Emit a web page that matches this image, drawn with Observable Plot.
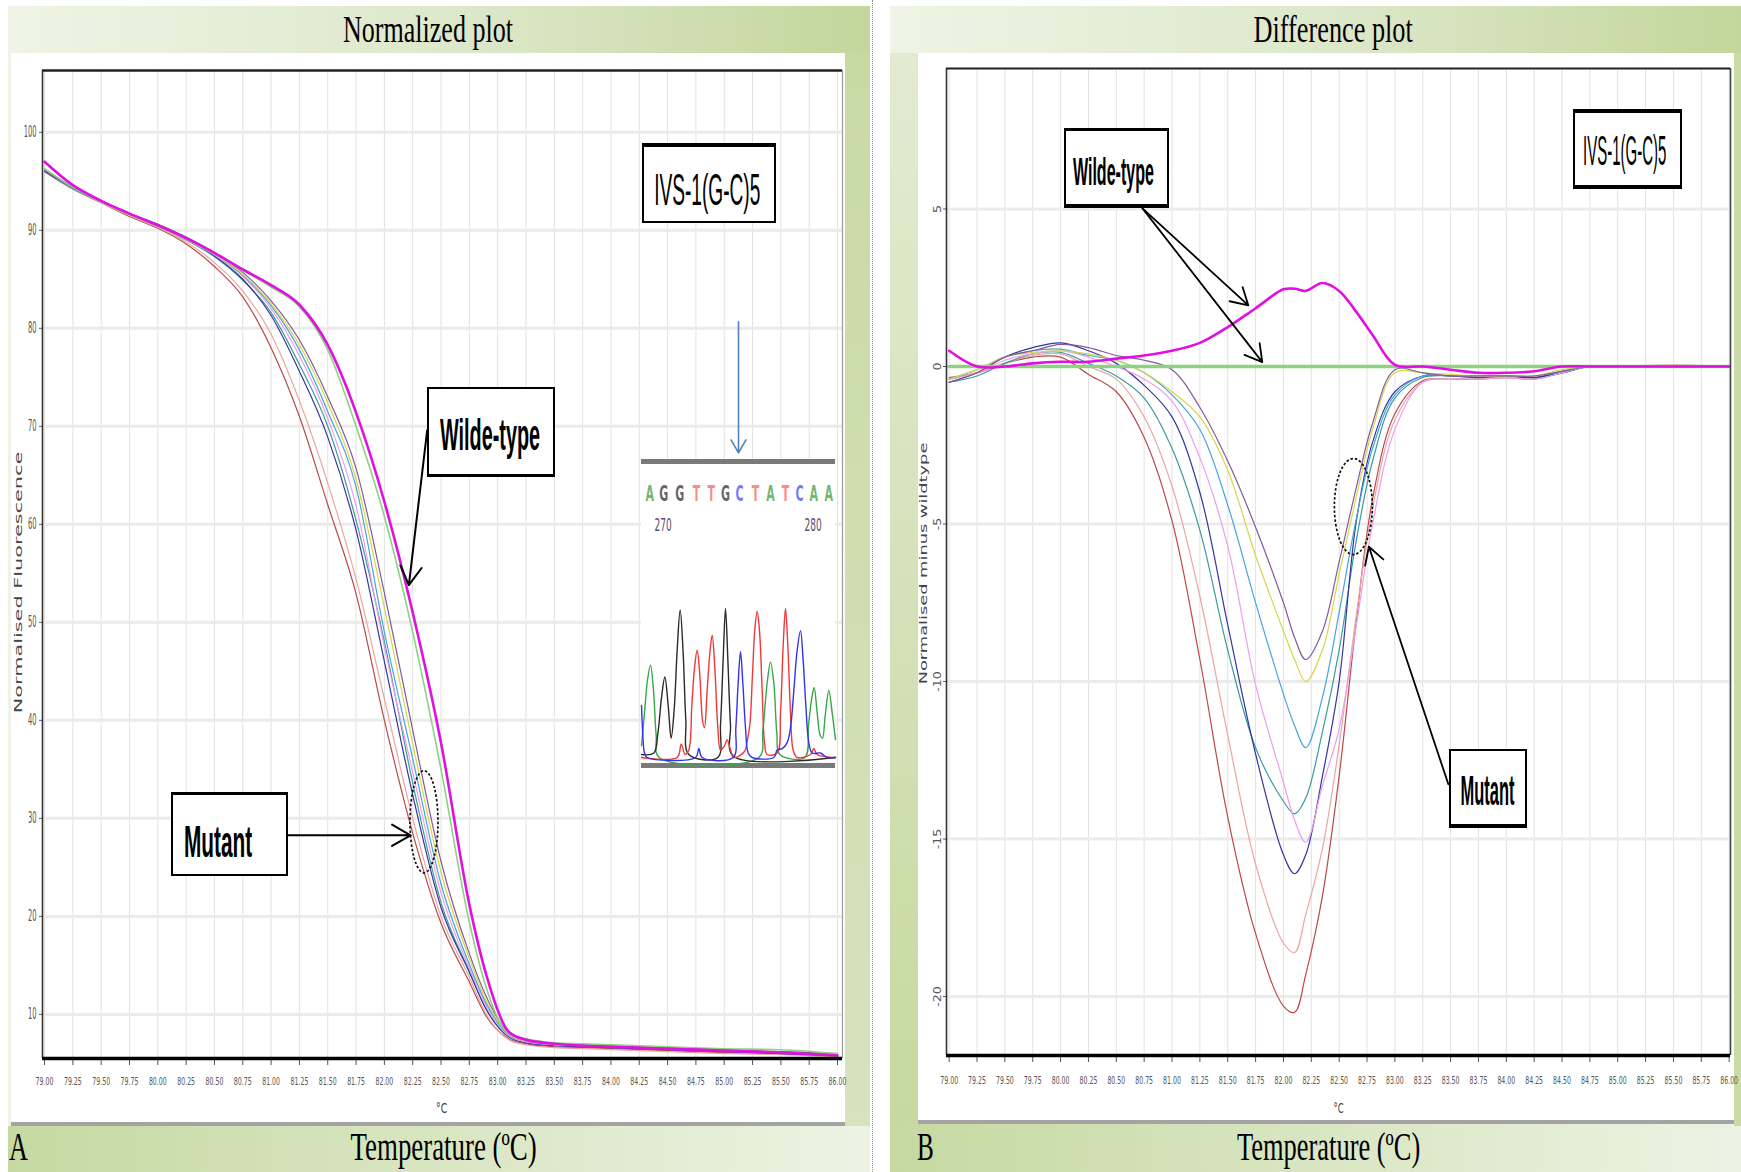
<!DOCTYPE html>
<html><head><meta charset="utf-8">
<script src="https://cdn.jsdelivr.net/npm/d3@7"></script>
<script src="https://cdn.jsdelivr.net/npm/@observablehq/plot@0.6"></script>
<style>
html,body{margin:0;padding:0;background:#fff;}
#root{position:relative;width:1741px;height:1172px;overflow:hidden;background:#fff;}
.box{position:absolute;box-sizing:border-box;border:2px solid #000;background:#fff;}
</style></head>
<body><div id="root"></div>
<script>
// ---------------- DATA ----------------
const names = ["Mutant 1","Mutant 2","Mutant 3","Mutant 4","Mutant 5","Mutant 6","Mutant 7","Mutant 8","Wild-type ref","Wild-type"];
const colors = ["#b94a48","#e9a6a4","#3b9b9b","#35359e","#ec9eec","#46a5d9","#d6d64a","#86589a","#8dd27f","#e20fe2"];

// Normalized plot
const normT = [79.0,79.25,79.5,79.75,80.0,80.25,80.5,80.75,81.0,81.25,81.5,81.75,82.0,82.25,82.5,82.75,82.9,83.1,83.25,83.5,83.75,84.0,84.5,85.0,85.5,86.0];
const nRed     = [96.0,94.2,92.8,91.4,90.2,88.6,86.3,83.2,78.0,71.0,62.0,52.9,40.0,28.5,19.3,13.3,9.8,7.5,7.0,6.7,6.6,6.5,6.3,6.1,6.0,5.8];
const nSalmon  = [96.0,94.2,92.8,91.5,90.3,88.8,86.7,83.8,79.4,72.6,64.2,54.4,42.2,30.0,20.0,13.8,10.0,7.4,6.9,6.6,6.5,6.4,6.2,6.0,5.9,5.7];
const nTeal    = [96.1,94.3,92.9,91.6,90.4,89.0,87.3,84.9,81.6,76.3,70.0,60.4,48.0,33.6,21.4,14.4,10.5,7.7,7.2,6.9,6.8,6.7,6.5,6.3,6.1,5.9];
const nBlue    = [96.0,94.3,92.9,91.7,90.6,89.2,87.4,85.0,81.3,75.6,68.9,59.4,46.0,32.4,20.9,14.3,10.5,7.7,7.1,6.8,6.7,6.6,6.4,6.2,6.0,5.8];
const nPink    = [96.2,94.4,92.9,91.6,90.4,89.1,87.5,85.3,82.0,77.2,70.8,61.9,47.5,34.7,22.4,14.7,10.8,7.8,7.2,6.9,6.8,6.7,6.5,6.3,6.2,6.0];
const nCyan    = [96.1,94.3,92.9,91.6,90.5,89.2,87.6,85.4,82.3,77.8,71.5,63.8,49.0,36.1,23.3,15.1,11.1,7.9,7.3,7.0,6.8,6.7,6.5,6.3,6.1,5.9];
const nYellow  = [96.2,94.4,92.9,91.6,90.4,89.1,87.6,85.5,82.5,78.3,72.4,64.6,51.5,37.6,24.5,15.7,11.4,8.0,7.3,7.0,6.9,6.8,6.6,6.4,6.2,6.0];
const nPurple  = [96.1,94.4,93.0,91.7,90.6,89.3,87.7,85.7,82.8,78.8,73.0,65.7,53.0,39.0,25.6,16.2,11.8,8.1,7.4,7.0,6.9,6.8,6.6,6.4,6.2,6.0];
const nGreen   = [96.3,94.4,92.9,91.6,90.4,89.1,87.6,85.9,84.2,82.2,77.8,70.0,60.8,49.0,35.0,19.4,12.7,8.0,7.5,7.1,7.0,6.9,6.7,6.5,6.4,6.0];
const nMagenta = [97.0,94.6,93.0,91.7,90.5,89.2,87.7,86.0,84.4,82.4,78.3,71.4,62.3,51.0,37.7,21.2,14.0,8.2,7.4,7.0,6.8,6.7,6.5,6.3,6.1,5.8];

// Difference plot
const diffT = [79.0,79.25,79.5,79.75,80.0,80.25,80.5,80.75,81.0,81.25,81.5,81.75,82.0,82.1,82.2,82.35,82.5,82.65,82.8,83.0,83.25,83.5,83.75,84.0,84.25,84.5,84.75,85.0,85.5,86.0];
const dRed     = [-0.35,-0.2,0.1,0.3,0.3,-0.25,-0.8,-2.25,-4.9,-9.3,-14.3,-18.0,-20.3,-20.5,-19.3,-16.8,-13.0,-8.2,-4.2,-1.5,-0.45,-0.4,-0.4,-0.35,-0.4,-0.2,0,0,0,0];
const dSalmon  = [-0.4,-0.2,0.1,0.35,0.4,0.0,-0.4,-1.6,-3.8,-7.3,-11.7,-15.8,-18.3,-18.6,-17.4,-15.3,-12.0,-8.0,-4.5,-1.7,-0.5,-0.4,-0.35,-0.35,-0.35,-0.2,0,0,0.05,0];
const dTeal    = [-0.5,-0.3,0.1,0.4,0.45,0.1,-0.3,-1.0,-2.6,-5.2,-9.0,-12.1,-13.8,-14.2,-13.7,-11.6,-9.0,-5.6,-3.0,-1.0,-0.35,-0.3,-0.35,-0.3,-0.35,-0.15,0,0,0,0];
const dBlue    = [-0.5,-0.2,0.3,0.6,0.75,0.5,0.1,-0.6,-1.6,-4.0,-8.2,-12.3,-15.5,-16.1,-15.5,-13.0,-10.0,-5.0,-2.4,-0.8,-0.3,-0.3,-0.35,-0.3,-0.35,-0.2,0,0,0,0];
const dPink    = [-0.4,-0.2,0.2,0.4,0.5,0.3,0.0,-0.4,-1.1,-2.9,-5.7,-10.1,-13.2,-14.4,-15.1,-13.3,-11.5,-8.3,-5.0,-2.0,-0.5,-0.4,-0.4,-0.35,-0.4,-0.2,0,0,0,0];
const dCyan    = [-0.4,-0.1,0.3,0.5,0.55,0.35,0.2,-0.2,-0.9,-2.0,-4.4,-7.5,-10.4,-11.4,-12.1,-10.5,-7.8,-4.9,-2.6,-0.9,-0.3,-0.3,-0.3,-0.3,-0.3,-0.15,0,0,0,0];
const dYellow  = [-0.4,-0.1,0.3,0.45,0.5,0.4,0.2,-0.2,-0.8,-1.6,-3.3,-6.0,-8.4,-9.3,-10.0,-9.0,-6.6,-4.2,-2.0,-0.2,-0.2,-0.25,-0.3,-0.3,-0.3,-0.1,0,0,0,0];
const dPurple  = [-0.5,-0.2,0.3,0.5,0.7,0.6,0.35,0.2,-0.1,-1.3,-3.0,-5.1,-7.5,-8.6,-9.3,-8.4,-6.2,-3.9,-1.8,-0.1,-0.2,-0.3,-0.3,-0.3,-0.3,-0.15,0,0,0,0];
const dGreen   = [0,0,0,0,0,0,0,0,0,0,0,0,0,0,0,0,0,0,0,0,0,0,0,0,0,0,0,0,0,0];
const dMagenta = [0.5,0.0,0.0,0.1,0.15,0.15,0.25,0.35,0.5,0.75,1.25,1.85,2.45,2.47,2.4,2.65,2.4,1.75,1.0,0.05,0.0,-0.1,-0.2,-0.2,-0.15,0.0,0.0,0.0,0.0,0.0];

// axes / ticks
const xTicks = [79,79.25,79.5,79.75,80,80.25,80.5,80.75,81,81.25,81.5,81.75,82,82.25,82.5,82.75,83,83.25,83.5,83.75,84,84.25,84.5,84.75,85,85.25,85.5,85.75,86];
const nYTicks = [10,20,30,40,50,60,70,80,90,100];
const dYTicks = [-20,-15,-10,-5,0,5];
const nXDomain = [78.982, 86.044], nYDomain = [5.5, 106.3];
const dXDomain = [78.976, 86.012], dYDomain = [-21.87, 9.46];

// annotations (data coordinates)
const nArrows = [
  {x1:82.378, y1:69.6, x2:82.216, y2:53.8},   // Wilde-type
  {x1:81.154, y1:28.27, x2:82.231, y2:28.27}  // Mutant
];
const nSeqArrow = [{x1:85.126, y1:80.67, x2:85.126, y2:67.29}];
const dArrows = [
  {x1:80.735, y1:5.02, x2:81.685, y2:1.94},
  {x1:80.735, y1:5.02, x2:81.81, y2:0.14},
  {x1:83.48, y1:-13.26, x2:82.767, y2:-5.72}
];
const nEllipse = {x:82.354, y:29.6};
const dEllipse = {x:82.632, y:-4.46};

// chromatogram inset (position units along trace, height 0..100)
const seqLetters = ["A","G","G","T","T","G","C","T","A","T","C","A","A"];
const seqPos = [88,130,178,228,272,315,357,405,450,495,537,580,625];
const seqNumbers = ["270","280"];
const seqNumberPos = [128,578];
const chromaA = [[63,8],[72,30],[81,52],[90,62],[99,45],[107,15],[116,0],[415,0],[427,18],[440,50],[450,64],[460,50],[469,16],[478,2],[553,0],[564,22],[574,40],[581,47],[590,30],[599,15],[606,13],[614,28],[625,45],[635,30],[645,12]];
const chromaG = [[63,2],[100,3],[112,16],[123,40],[133,54],[143,35],[152,13],[161,32],[170,72],[179,99],[188,70],[196,25],[205,2],[292,0],[300,22],[308,66],[315,100],[322,66],[330,22],[338,1],[645,0]];
const chromaT = [[63,0],[170,0],[182,9],[194,2],[205,5],[214,35],[222,60],[230,72],[238,55],[246,25],[252,20],[260,45],[268,70],[275,82],[283,60],[292,20],[300,5],[312,8],[320,12],[330,5],[340,0],[372,4],[380,11],[388,22],[396,56],[403,86],[410,98],[417,85],[425,45],[432,10],[440,2],[470,3],[480,30],[488,75],[495,100],[502,75],[510,30],[518,5],[530,0],[570,2],[580,6],[590,2],[645,0]];
const chromaC = [[63,35],[67,15],[72,3],[80,0],[225,0],[235,6],[245,0],[338,0],[346,20],[353,50],[360,71],[367,50],[375,20],[383,3],[395,0],[460,0],[470,5],[485,6],[500,10],[510,20],[520,45],[530,72],[540,85],[548,65],[556,35],[565,10],[575,3],[600,3],[620,0],[645,0]];
const seqColor = {A:"#3f9f3f", G:"#333333", T:"#ff5f5f", C:"#4b4bff"};

// ---------------- BUILD ----------------
const root = document.getElementById("root");
const NARROW = '"Liberation Sans Narrow","DejaVu Sans Condensed","Liberation Sans",sans-serif';
const SERIF = '"Liberation Serif","DejaVu Serif",serif';

function rect(l,t,w,h,style){const d=document.createElement("div");d.style.cssText=`position:absolute;left:${l}px;top:${t}px;width:${w}px;height:${h}px;${style||""}`;root.appendChild(d);return d;}
function addText(str,o){
  const el=document.createElement("div");
  el.textContent=str;
  el.style.cssText=`position:absolute;left:0;top:0;white-space:nowrap;line-height:1;font-size:${o.size}px;font-family:${o.family};font-weight:${o.weight||"normal"};color:${o.color||"#000"};letter-spacing:${o.ls||0}px`;
  root.appendChild(el);
  const nw=el.offsetWidth, nh=el.offsetHeight;
  el.style.left=(o.cx-nw/2)+"px"; el.style.top=(o.cy-nh/2)+"px";
  el.style.transformOrigin="50% 50%";
  el.style.transform=`rotate(${o.rot||0}deg) scaleX(${o.w/nw})`;
  return el;
}

// panels
const gradTop="linear-gradient(90deg,#eff4e6 0%,#dce7c8 55%,#c3d69b 100%)";
const gradBot="linear-gradient(90deg,#c6d9a1 0%,#dbe7c6 55%,#edf3e3 100%)";
rect(8,6,862,1166,`background:${gradTop}`);
rect(8,1126,862,46,`background:${gradBot}`);
rect(845,53,25,1073,"background:linear-gradient(180deg,#c8daa4,#d6e3bd)");
rect(11,53,834,1069,"background:#fff");
rect(11,1122,834,4,"background:#a3a3a3");
rect(872,0,0,1172,"border-left:1.5px dotted #8d8d70");
rect(890,6,851,1166,`background:${gradTop}`);
rect(890,53,28,1073,"background:linear-gradient(180deg,#e2ebd1,#c6d9a1)");
rect(890,1124,851,48,`background:${gradBot}`);
rect(1734,53,7,1073,"background:#c9dba6");
rect(918,53,816,1067,"background:#fff");
rect(918,1120,816,4,"background:#a3a3a3");

function squeeze(svg, which, sx, fontSize){
  svg.querySelectorAll(`g[aria-label="${which}-axis tick label"] text, g[aria-label="${which}-axis"] g.tick text`).forEach(t=>{
    if(fontSize) t.setAttribute("font-size",fontSize);
    const tr=t.getAttribute("transform")||"";
    t.setAttribute("transform",tr+` scale(${sx},1)`);
  });
}
function place(svg,l,t){svg.style.position="absolute";svg.style.left=l+"px";svg.style.top=t+"px";svg.style.maxWidth="none";root.appendChild(svg);}
function addEllipse(svg,e,rx,ry){
  const sx=svg.scale("x"), sy=svg.scale("y");
  d3.select(svg).append("ellipse").attr("cx",sx.apply(e.x)).attr("cy",sy.apply(e.y)).attr("rx",rx).attr("ry",ry)
    .attr("fill","none").attr("stroke","#111").attr("stroke-width",1.7).attr("stroke-dasharray","2.5,2");
}
function longData(T, arrays){
  return arrays.flatMap((arr,k)=>T.map((t,i)=>({T:t, v:arr[i], s:names[k], c:colors[k]})));
}

// ----- Normalized plot -----
const nMut = longData(normT,[nRed,nSalmon,nTeal,nBlue,nPink,nCyan,nYellow,nPurple]);
const nWTref = normT.map((t,i)=>({T:t,v:nGreen[i]}));
const nWT = normT.map((t,i)=>({T:t,v:nMagenta[i]}));
const left = Plot.plot({
  width:834, height:1069, marginLeft:31, marginRight:3, marginTop:17, marginBottom:64,
  style:{fontFamily:NARROW, fontSize:"11px", color:"#555", background:"transparent", overflow:"visible"},
  x:{domain:nXDomain, ticks:xTicks, tickFormat:d=>d.toFixed(2), tickSize:7, tickPadding:12, label:null},
  y:{domain:nYDomain, ticks:nYTicks, tickFormat:d=>String(d), tickSize:3, tickPadding:3, label:null},
  color:{type:"identity"},
  marks:[
    Plot.ruleX(xTicks,{stroke:"#e2e2e2", strokeWidth:1}),
    Plot.ruleY(nYTicks,{stroke:"#ebebeb", strokeWidth:3}),
    Plot.line(nMut,{x:"T", y:"v", z:"s", stroke:"c", strokeWidth:1.2, curve:"monotone-x"}),
    Plot.line(nWTref,{x:"T", y:"v", stroke:colors[8], strokeWidth:1.6, curve:"monotone-x"}),
    Plot.line(nWT,{x:"T", y:"v", stroke:colors[9], strokeWidth:2.6, curve:"monotone-x"}),
    Plot.ruleX([nXDomain[0]],{stroke:"#333", strokeWidth:1.6}),
    Plot.ruleX([nXDomain[1]],{stroke:"#9a9a9a", strokeWidth:1.2}),
    Plot.ruleY([nYDomain[1]],{stroke:"#222", strokeWidth:2.6}),
    Plot.ruleY([nYDomain[0]],{stroke:"#000", strokeWidth:3.5}),
    Plot.arrow(nArrows,{x1:"x1",y1:"y1",x2:"x2",y2:"y2", stroke:"#000", strokeWidth:2, headLength:16}),
    Plot.arrow(nSeqArrow,{x1:"x1",y1:"y1",x2:"x2",y2:"y2", stroke:"#4f81bd", strokeWidth:1.6, headLength:14})
  ]
});
squeeze(left,"x",0.63,"11");
squeeze(left,"y",0.5,"15");
addEllipse(left,nEllipse,14,51);
place(left,11,53);

// ----- Difference plot -----
const dMut = longData(diffT,[dRed,dSalmon,dTeal,dBlue,dPink,dCyan,dYellow,dPurple]);
const dWTref = diffT.map((t,i)=>({T:t,v:dGreen[i]}));
const dWT = diffT.map((t,i)=>({T:t,v:dMagenta[i]}));
const right = Plot.plot({
  width:816, height:1067, marginLeft:28, marginRight:4, marginTop:15, marginBottom:65,
  style:{fontFamily:NARROW, fontSize:"11px", color:"#555", background:"transparent", overflow:"visible"},
  x:{domain:dXDomain, ticks:xTicks, tickFormat:d=>d.toFixed(2), tickSize:7, tickPadding:14, label:null},
  y:{domain:dYDomain, ticks:dYTicks, tickFormat:d=>String(d), tickSize:3, tickPadding:3, tickRotate:-90, label:null},
  color:{type:"identity"},
  marks:[
    Plot.ruleX(xTicks,{stroke:"#e2e2e2", strokeWidth:1}),
    Plot.ruleY(dYTicks,{stroke:"#ebebeb", strokeWidth:3}),
    Plot.line(dMut,{x:"T", y:"v", z:"s", stroke:"c", strokeWidth:1.2, curve:"catmull-rom"}),
    Plot.line(dWTref,{x:"T", y:"v", stroke:colors[8], strokeWidth:3.5}),
    Plot.line(dWT,{x:"T", y:"v", stroke:colors[9], strokeWidth:2.6, curve:"catmull-rom"}),
    Plot.ruleX([dXDomain[0]],{stroke:"#333", strokeWidth:1.6}),
    Plot.ruleX([dXDomain[1]],{stroke:"#444", strokeWidth:1.6}),
    Plot.ruleY([dYDomain[1]],{stroke:"#222", strokeWidth:2.2}),
    Plot.ruleY([dYDomain[0]],{stroke:"#000", strokeWidth:3.5}),
    Plot.arrow(dArrows,{x1:"x1",y1:"y1",x2:"x2",y2:"y2", stroke:"#000", strokeWidth:1.8, headLength:16})
  ]
});
squeeze(right,"x",0.63,"11");
squeeze(right,"y",1.4,"10");
addEllipse(right,dEllipse,19,48);
place(right,918,53);

// ----- Chromatogram inset -----
const inset = rect(641,459,194,299,"background:#fff;border-top:5px solid #7a7a7a;border-bottom:5px solid #7a7a7a;");
const traceData = (arr)=>arr.map(d=>({p:d[0],h:d[1]}));
const chroma = Plot.plot({
  width:194, height:299, marginTop:0, marginBottom:0, marginLeft:0, marginRight:0,
  style:{background:"transparent", overflow:"visible", fontFamily:'"DejaVu Sans",sans-serif'},
  x:{domain:[63,645], axis:null},
  y:{domain:[0,100], range:[293,144], axis:null},
  color:{type:"identity"},
  marks:[
    Plot.line(traceData(chromaA),{x:"p",y:"h",stroke:"#37a84a",strokeWidth:1.4,curve:"catmull-rom"}),
    Plot.line(traceData(chromaG),{x:"p",y:"h",stroke:"#2b2b2b",strokeWidth:1.4,curve:"catmull-rom"}),
    Plot.line(traceData(chromaT),{x:"p",y:"h",stroke:"#f0383a",strokeWidth:1.4,curve:"catmull-rom"}),
    Plot.line(traceData(chromaC),{x:"p",y:"h",stroke:"#3333ee",strokeWidth:1.4,curve:"catmull-rom"}),
    Plot.text(seqLetters,{x:seqPos, text:d=>d, fill:d=>seqColor[d], frameAnchor:"top", lineAnchor:"middle", dy:29, fontSize:22, fontWeight:"600", fillOpacity:0.75}),
    Plot.text(seqNumbers,{x:seqNumberPos, text:d=>d, fill:"#5e4c70", frameAnchor:"top", lineAnchor:"middle", dy:61, fontSize:18})
  ]
});
chroma.querySelectorAll("text").forEach(t=>{const tr=t.getAttribute("transform")||"";t.setAttribute("transform",tr+" scale(0.5,1)");});
chroma.style.display="block";chroma.style.maxWidth="none";
inset.appendChild(chroma);

// ----- Annotation boxes -----
function box(l,t,w,h,b){const d=document.createElement("div");d.className="box";d.style.cssText+=`left:${l}px;top:${t}px;width:${w}px;height:${h}px;border-width:${b}`;root.appendChild(d);}
box(642,143,134,80,"4px 2px 2px 2px");
box(427,387,128,90,"2.5px 2px 3.5px 2px");
box(171,792,117,84,"3.5px 2px 2px 2px");
box(1064,128,105,80,"3px 2px 4px 2px");
box(1573,109,109,80,"4px 2px 4px 2px");
box(1449,749,78,79,"2px 2px 4px 2px");
const BOXFONT='"Liberation Sans Narrow","Liberation Sans",sans-serif';
addText("IVS-1(G-C)5",{cx:707,cy:190,w:106,size:44,family:BOXFONT});
addText("Wilde-type",{cx:490,cy:435,w:100,size:44,family:BOXFONT,weight:"bold"});
addText("Mutant",{cx:217.5,cy:842,w:68,size:44,family:BOXFONT,weight:"bold"});
addText("Wilde-type",{cx:1113.5,cy:171.5,w:81,size:39,family:BOXFONT,weight:"bold"});
addText("IVS-1(G-C)5",{cx:1624.5,cy:150.5,w:83,size:42,family:BOXFONT});
addText("Mutant",{cx:1487,cy:790,w:54,size:43,family:BOXFONT,weight:"bold"});

// ----- Titles & labels -----
addText("Normalized plot",{cx:428,cy:29,w:170,size:38,family:SERIF});
addText("Difference plot",{cx:1332.5,cy:29,w:159,size:38,family:SERIF});
addText("Temperature (ºC)",{cx:443,cy:1146.5,w:186,size:40,family:SERIF});
addText("Temperature (ºC)",{cx:1328,cy:1146.5,w:183,size:40,family:SERIF});
addText("A",{cx:18,cy:1146.5,w:19,size:40,family:SERIF});
addText("B",{cx:925.5,cy:1146.5,w:17,size:40,family:SERIF});
addText("°C",{cx:441,cy:1108,w:11,size:14,family:NARROW,color:"#444"});
addText("°C",{cx:1338,cy:1108,w:10,size:14,family:NARROW,color:"#444"});
addText("Normalised Fluorescence",{cx:17.5,cy:582,w:261,size:11,family:'"DejaVu Sans",sans-serif',color:"#444",rot:-90});
addText("Normalised minus wildtype",{cx:923,cy:563,w:241,size:11,family:'"DejaVu Sans",sans-serif',color:"#444",rot:-90});
</script>
</body></html>
